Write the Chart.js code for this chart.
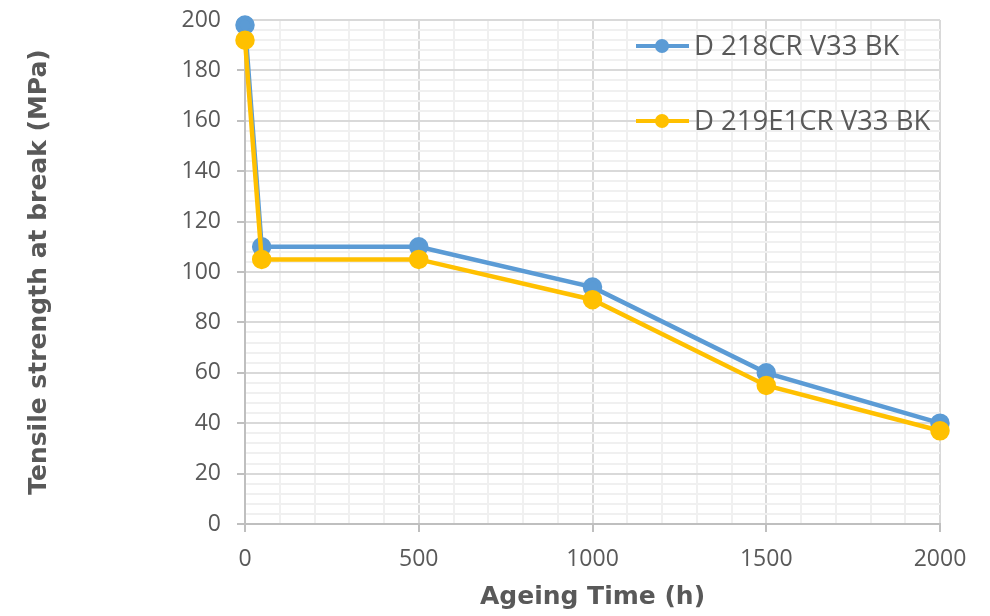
<!DOCTYPE html>
<html>
<head>
<meta charset="utf-8">
<script src="https://cdn.jsdelivr.net/npm/chart.js@4"></script>
<style>
html,body{margin:0;padding:0;background:#fff;}
#wrap{position:relative;width:990px;height:616px;}
</style>
</head>
<body>
<div id="wrap"><canvas id="c" width="990" height="616"></canvas></div>
<script>
const hours = [0, 48, 500, 1000, 1500, 2000];
const seriesA = [198, 110, 110, 94, 60, 40];
const seriesB = [192, 105, 105, 89, 55, 37];
const labelA = 'D 218CR V33 BK';
const labelB = 'D 219E1CR V33 BK';
const xTitle = 'Ageing Time (h)';
const yTitle = 'Tensile strength at break (MPa)';

const FONT = "'Open Sans', 'Liberation Sans', sans-serif";
const TFONT = "'DejaVu Sans', 'Open Sans', sans-serif";
const TXT = '#595959';

const legendPlugin = {
  id: 'floatLegend',
  afterDraw(chart) {
    const ctx = chart.ctx;
    const rows = [46, 121];
    chart.data.datasets.forEach((ds, i) => {
      const y = rows[i];
      ctx.save();
      ctx.strokeStyle = ds.borderColor;
      ctx.lineWidth = 4;
      ctx.beginPath();
      ctx.moveTo(636, y);
      ctx.lineTo(689, y);
      ctx.stroke();
      ctx.fillStyle = ds.borderColor;
      ctx.beginPath();
      ctx.arc(662, y, 7, 0, Math.PI * 2);
      ctx.fill();
      ctx.fillStyle = TXT;
      ctx.font = "27.5px " + FONT;
      ctx.textBaseline = 'middle';
      ctx.textAlign = 'left';
      ctx.fillText(ds.label, 694, y + 1);
      ctx.restore();
    });
  }
};

new Chart(document.getElementById('c'), {
  type: 'line',
  data: {
    datasets: [
      {label: labelA, order: 1, clip: false, data: hours.map((h, i) => ({x: h, y: seriesA[i]})), borderColor: '#5B9BD5', backgroundColor: '#5B9BD5', borderWidth: 4.5, pointRadius: 7.5, pointHoverRadius: 7.5, tension: 0},
      {label: labelB, order: 0, clip: false, data: hours.map((h, i) => ({x: h, y: seriesB[i]})), borderColor: '#FFC000', backgroundColor: '#FFC000', borderWidth: 4.5, pointRadius: 7.5, pointHoverRadius: 7.5, tension: 0}
    ]
  },
  options: {
    responsive: false,
    animation: false,
    devicePixelRatio: 1,
    layout: {padding: {left: 20, right: 50, top: 20, bottom: 0}},
    plugins: {legend: {display: false}, tooltip: {enabled: false}},
    scales: {
      x: {
        type: 'linear', min: 0, max: 2000,
        afterFit(s) { s.height = 92; s.paddingLeft = 0; s.paddingRight = 0; },
        ticks: {stepSize: 100, autoSkip: false, maxRotation: 0, color: TXT, font: {family: FONT, size: 23}, padding: 14,
          callback: v => (v % 500 === 0 ? String(v) : '')},
        grid: {
          color: c => (c.tick && c.tick.value % 500 === 0 ? '#D9D9D9' : '#F0F0F0'),
          lineWidth: 2,
          tickLength: 8,
          tickColor: c => (c.tick && c.tick.value % 500 === 0 ? '#BFBFBF' : 'rgba(0,0,0,0)')
        },
        border: {color: '#BFBFBF', width: 2},
        title: {display: true, text: xTitle, color: TXT, font: {family: TFONT, size: 25, weight: 'bold'}, padding: {top: 4}}
      },
      y: {
        min: 0, max: 200,
        afterFit(s) { s.width = 225; s.paddingTop = 0; s.paddingBottom = 0; },
        ticks: {stepSize: 4, autoSkip: false, color: TXT, font: {family: FONT, size: 23}, padding: 16,
          callback: v => (v % 20 === 0 ? String(v) : '')},
        grid: {
          color: c => (c.tick && c.tick.value % 20 === 0 ? '#D9D9D9' : '#F0F0F0'),
          lineWidth: 2,
          tickLength: 8,
          tickColor: c => (c.tick && c.tick.value % 20 === 0 ? '#BFBFBF' : 'rgba(0,0,0,0)')
        },
        border: {color: '#BFBFBF', width: 2},
        title: {display: true, text: yTitle, color: TXT, font: {family: TFONT, size: 25, weight: 'bold'}, padding: {bottom: 0}}
      }
    }
  },
  plugins: [legendPlugin]
});
</script>
</body>
</html>
